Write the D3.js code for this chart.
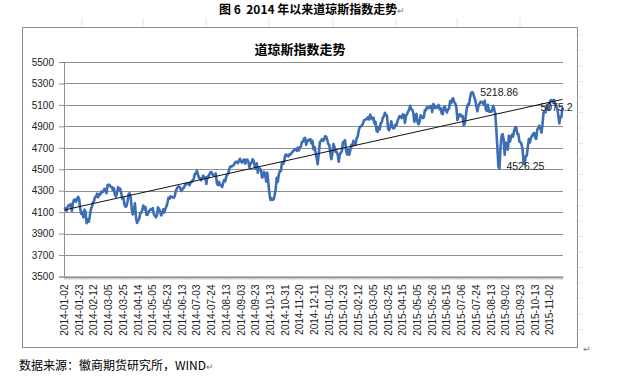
<!DOCTYPE html>
<html>
<head>
<meta charset="utf-8">
<script src="https://cdn.jsdelivr.net/npm/d3@7"></script>
<style>
  body { margin: 0; background: #fff; }
  svg { display: block; }
</style>
</head>
<body>
<div id="chart"></div>
<script>
// trading days (weekends and NYSE holidays skipped)
const firstDay = "2014-01-02";
const lastDay = "2015-11-18";
const holidays = ["2014-01-20","2014-02-17","2014-04-18","2014-05-26","2014-07-04","2014-09-01",
  "2014-11-27","2014-12-25","2015-01-01","2015-01-19","2015-02-16","2015-04-03","2015-05-25",
  "2015-07-03","2015-09-07"];

// daily closes, one array per month
const m2014_01 = [4143,4131,4113,4153,4165,4156,4175,4113,4183,4215,4218,4197,4225,4243,4218,4128,4083,4097,4051,4123,4104];
const m2014_02 = [3997,4031,4011,4057,4126,4148,4191,4201,4240,4244,4272,4238,4268,4263,4292,4287,4292,4318,4308];
const m2014_03 = [4277,4351,4357,4352,4336,4334,4307,4323,4260,4245,4279,4333,4308,4319,4276,4226,4234,4173,4151,4155,4199];
const m2014_04 = [4268,4276,4237,4127,4079,4112,4183,4054,3999,4022,4034,4086,4095,4121,4161,4127,4148,4076,4074,4103,4115];
const m2014_05 = [4127,4123,4138,4080,4068,4052,4071,4144,4130,4100,4070,4090,4126,4097,4131,4154,4186,4237,4225,4248,4243];
const m2014_06 = [4237,4234,4252,4297,4321,4336,4338,4331,4298,4310,4321,4337,4362,4360,4368,4368,4351,4379,4379,4398,4408];
const m2014_07 = [4458,4457,4486,4452,4419,4419,4397,4415,4441,4417,4425,4363,4432,4425,4456,4473,4472,4449,4444,4442,4462,4370];
const m2014_08 = [4352,4383,4352,4355,4334,4370,4401,4389,4434,4453,4464,4508,4527,4526,4532,4538,4557,4570,4569,4557,4580];
const m2014_09 = [4598,4572,4562,4582,4592,4552,4587,4591,4568,4519,4553,4562,4593,4580,4528,4509,4556,4467,4512,4506,4493];
const m2014_10 = [4422,4430,4475,4454,4385,4468,4379,4276,4213,4228,4215,4218,4258,4316,4420,4382,4452,4483,4485,4564,4549,4566,4631];
const m2014_11 = [4638,4623,4620,4638,4633,4652,4661,4675,4680,4688,4671,4702,4675,4701,4712,4755,4758,4787,4792];
const m2014_12 = [4727,4755,4774,4769,4781,4741,4766,4685,4708,4653,4605,4547,4644,4748,4765,4781,4765,4773,4807,4806,4777,4736];
const m2015_01 = [4726,4652,4593,4650,4736,4704,4664,4662,4639,4570,4634,4655,4667,4750,4758,4771,4681,4638,4683,4635];
const m2015_02 = [4676,4727,4716,4765,4745,4727,4788,4801,4858,4893,4899,4906,4924,4956,4961,4968,4967,4987,4964];
const m2015_03 = [5009,4979,4967,4982,4928,4942,4860,4849,4894,4871,4930,4937,4982,4993,5026,5011,4994,4877,4863,4891,4948,4901];
const m2015_04 = [4880,4886,4917,4910,4951,4974,4996,4989,4977,5011,5008,4932,4994,5014,5036,5056,5092,5060,5055,5024,4941];
const m2015_05 = [5005,5016,4939,4920,4945,5003,4993,4976,4981,5050,5048,5079,5071,5071,5090,5089,5033,5107,5098,5070];
const m2015_06 = [5083,5076,5100,5059,5069,5022,5014,5076,5083,5052,5029,5056,5065,5133,5117,5154,5160,5123,5112,5080,4959,4987];
const m2015_07 = [5013,5009,4992,4998,4910,4922,4997,5072,5105,5098,5164,5211,5219,5208,5171,5146,5089,5040,5089,5111,5129,5128];
const m2015_08 = [5116,5105,5140,5057,5044,5101,5037,5045,5034,5048,5092,5060,5020,4877,4706,4526,4506,4698,4812,4828,4777];
const m2015_09 = [4636,4749,4733,4683,4812,4756,4796,4822,4805,4861,4890,4893,4827,4828,4757,4752,4734,4687,4565,4548,4620];
const m2015_10 = [4627,4707,4781,4749,4791,4811,4830,4839,4796,4783,4870,4886,4906,4880,4840,4920,5032,5035,5030,5096,5075,5054];
const m2015_11 = [5127,5145,5142,5127,5147,5096,5083,5067,5005,4928,4984,4987,5075];

const xTickLabels = ["2014-01-02","2014-01-23","2014-02-12","2014-03-05","2014-03-25","2014-04-14",
  "2014-05-05","2014-05-23","2014-06-13","2014-07-03","2014-07-24","2014-08-13","2014-09-03",
  "2014-09-23","2014-10-13","2014-10-31","2014-11-20","2014-12-11","2015-01-02","2015-01-23",
  "2015-02-12","2015-03-05","2015-03-25","2015-04-15","2015-05-05","2015-05-26","2015-06-15",
  "2015-07-06","2015-07-24","2015-08-13","2015-09-02","2015-09-23","2015-10-13","2015-11-02"];
const yTicks = [3500,3700,3900,4100,4300,4500,4700,4900,5100,5300,5500];

const labels = [
  {date: "2015-07-20", value: 5218.86, text: "5218.86"},
  {date: "2015-08-24", value: 4526.25, text: "4526.25"},
  {date: "2015-11-18", value: 5075.2, text: "5075.2"}
];

const width = 640;
const height = 381;

const fmt = d3.timeFormat("%Y-%m-%d");
const parse = d3.timeParse("%Y-%m-%d");
const dates = d3.timeDay.range(parse(firstDay), d3.timeDay.offset(parse(lastDay), 1))
  .filter(d => d.getDay() !== 0 && d.getDay() !== 6)
  .map(fmt)
  .filter(d => !holidays.includes(d));

const closes = [].concat(m2014_01, m2014_02, m2014_03, m2014_04, m2014_05, m2014_06,
  m2014_07, m2014_08, m2014_09, m2014_10, m2014_11, m2014_12,
  m2015_01, m2015_02, m2015_03, m2015_04, m2015_05, m2015_06,
  m2015_07, m2015_08, m2015_09, m2015_10, m2015_11);

if (dates.length !== closes.length) console.log("length mismatch", dates.length, closes.length);

const data = dates.map((d, i) => ({date: d, value: closes[i]}));

const svg = d3.select("#chart").append("svg")
  .attr("width", width)
  .attr("height", height);

const x = d3.scaleBand()
  .domain(dates)
  .range([64, 563]);

const y = d3.scaleLinear()
  .domain([3500, 5500])
  .range([276.5, 62]);

const cx = d => x(d) + x.bandwidth() / 2;

// page caption
svg.append("text")
  .attr("x", 219)
  .attr("y", 14)
  .style("white-space", "pre")
  .style("font", "bold 12px 'Noto Sans CJK SC'")
  .text("图 6  2014 年以来道琼斯指数走势")
  .append("tspan")
    .style("font-weight", "normal")
    .style("font-size", "9px")
    .attr("fill", "#777")
    .text("↵");

// faint page grid marks
const pageGridX = [82, 143, 206, 269, 333, 396, 457, 520];
svg.append("g")
    .attr("stroke", "#e4e4e4")
  .selectAll("line")
  .data(pageGridX)
  .join("line")
    .attr("x1", d => d).attr("x2", d => d)
    .attr("y1", 18).attr("y2", 27);
svg.append("g")
    .attr("stroke", "#e4e4e4")
  .selectAll("line")
  .data(d3.range(35, 345, 15.5))
  .join("line")
    .attr("x1", 579).attr("x2", 583)
    .attr("y1", d => d).attr("y2", d => d);

// chart frame
svg.append("rect")
  .attr("x", 22.5)
  .attr("y", 27.5)
  .attr("width", 555)
  .attr("height", 320)
  .attr("fill", "#fff")
  .attr("stroke", "#8c8c8c");

svg.append("text")
  .attr("x", 583)
  .attr("y", 352)
  .attr("fill", "#777")
  .style("font", "9px 'DejaVu Sans'")
  .text("↵");

// title
svg.append("text")
  .attr("x", 300)
  .attr("y", 54)
  .attr("text-anchor", "middle")
  .style("font", "bold 13px 'Noto Sans CJK SC'")
  .text("道琼斯指数走势");

// gridlines
svg.append("g")
    .attr("stroke", "#8f8f8f")
    .attr("shape-rendering", "crispEdges")
  .selectAll("line")
  .data(yTicks)
  .join("line")
    .attr("x1", 64)
    .attr("x2", 563)
    .attr("y1", d => Math.round(y(d)) + 0.5)
    .attr("y2", d => Math.round(y(d)) + 0.5);

// y axis
const yAxis = svg.append("g")
  .attr("transform", "translate(64,0)")
  .call(d3.axisLeft(y).tickValues(yTicks).tickSize(5).tickPadding(5).tickFormat(d3.format("d")));
yAxis.selectAll("line, path").attr("stroke", "#8f8f8f");
yAxis.selectAll("text")
  .attr("fill", "#222")
  .style("font", "10px 'Liberation Sans'");

// x axis, a tick for every trading day
const xAxis = svg.append("g")
  .attr("transform", "translate(0,276.5)")
  .call(d3.axisBottom(x).tickSizeInner(3).tickSizeOuter(0)
    .tickFormat(d => xTickLabels.includes(d) ? d : ""));
xAxis.select("path").attr("stroke", "#8f8f8f");
xAxis.selectAll("line").attr("stroke", "#9a9a9a").attr("stroke-width", 0.55);
xAxis.selectAll("text")
  .attr("fill", "#222")
  .style("font", "10px 'Liberation Sans'")
  .attr("transform", "rotate(-90)")
  .attr("text-anchor", "end")
  .attr("x", -8)
  .attr("y", 0)
  .attr("dy", "0.35em");

// series line
svg.append("path")
  .datum(data)
  .attr("fill", "none")
  .attr("stroke", "#3d6db5")
  .attr("stroke-width", 2.6)
  .attr("stroke-linejoin", "round")
  .attr("d", d3.line().x(d => cx(d.date)).y(d => y(d.value)));

// linear trendline (least squares over day index)
const n = data.length;
const mx = d3.mean(data, (d, i) => i);
const my = d3.mean(data, d => d.value);
const slope = d3.sum(data, (d, i) => (i - mx) * (d.value - my)) / d3.sum(data, (d, i) => (i - mx) * (i - mx));
const icpt = my - slope * mx;
svg.append("line")
  .attr("x1", cx(dates[0]))
  .attr("y1", y(icpt))
  .attr("x2", cx(dates[n - 1]))
  .attr("y2", y(icpt + slope * (n - 1)))
  .attr("stroke", "#111")
  .attr("stroke-width", 1);

// value labels
const labelDx = [8, 8, -6];
const labelAnchor = ["start", "start", "middle"];
svg.append("g")
    .style("font", "10.5px 'Liberation Sans'")
    .attr("fill", "#222")
  .selectAll("text")
  .data(labels)
  .join("text")
    .attr("x", (d, i) => cx(d.date) + labelDx[i])
    .attr("y", d => y(d.value))
    .attr("dy", "0.35em")
    .attr("text-anchor", (d, i) => labelAnchor[i])
    .text(d => d.text);

// source note
svg.append("text")
  .attr("x", 19)
  .attr("y", 370)
  .style("font", "12px 'Noto Sans CJK SC'")
  .text("数据来源：徽商期货研究所，WIND")
  .append("tspan")
    .style("font-size", "9px")
    .attr("fill", "#777")
    .text("↵");
</script>
</body>
</html>
